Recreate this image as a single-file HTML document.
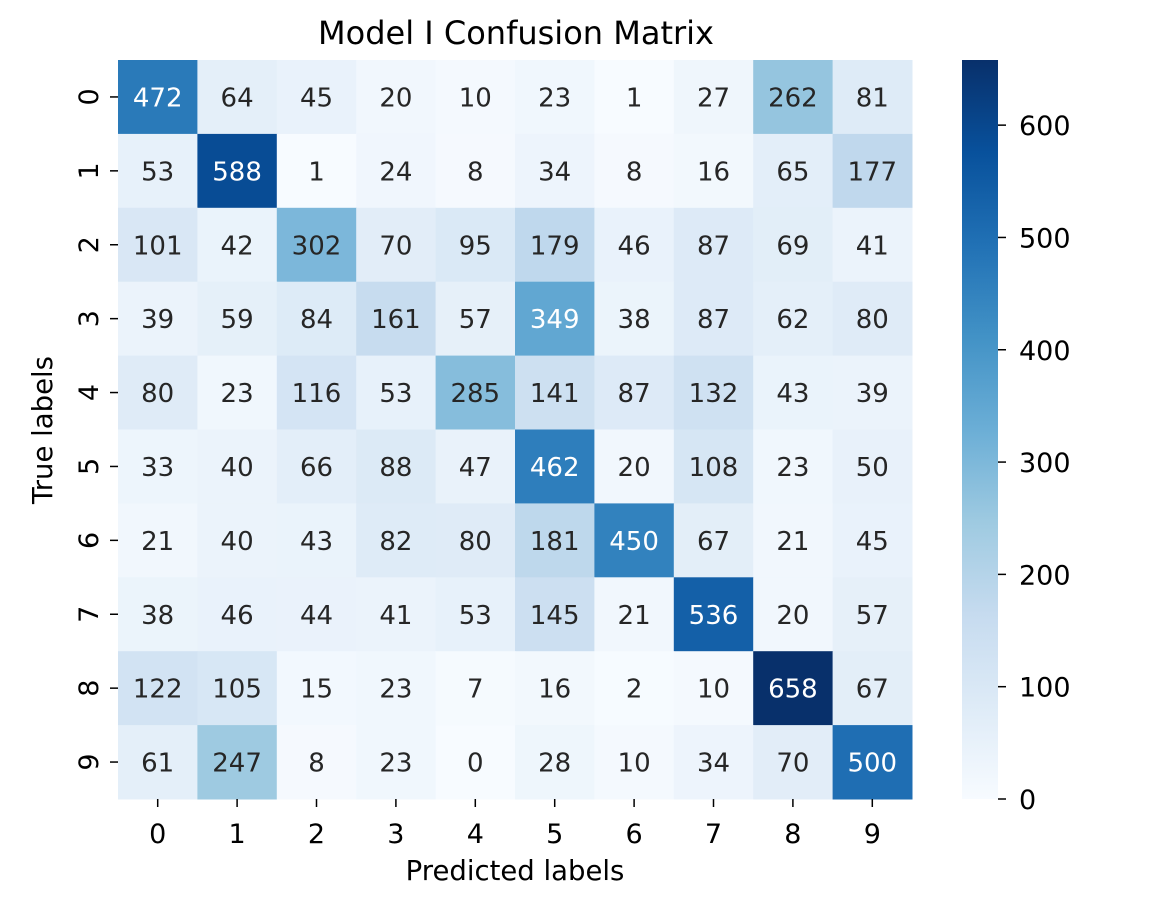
<!DOCTYPE html>
<html><head><meta charset="utf-8"><style>
body{margin:0;background:#fff;font-family:"Liberation Sans","DejaVu Sans",sans-serif;}
svg text{font-family:"DejaVu Sans","Liberation Sans",sans-serif;}
</style></head><body>
<svg id="chart" width="1158" height="904" xmlns="http://www.w3.org/2000/svg">
<defs><linearGradient id="cbgrad" x1="0" y1="1" x2="0" y2="0">
<stop offset="0" stop-color="#f7fbff"/><stop offset="0.125" stop-color="#deebf7"/><stop offset="0.25" stop-color="#c6dbef"/><stop offset="0.375" stop-color="#9ecae1"/><stop offset="0.5" stop-color="#6baed6"/><stop offset="0.625" stop-color="#4292c6"/><stop offset="0.75" stop-color="#2171b5"/><stop offset="0.875" stop-color="#08519c"/><stop offset="1" stop-color="#08306b"/>
</linearGradient></defs>
<text x="516" y="44" font-size="32" text-anchor="middle" fill="#000">Model I Confusion Matrix</text>
<text x="515" y="880" font-size="27.5" text-anchor="middle" fill="#000">Predicted labels</text>
<text x="0" y="0" font-size="27.5" text-anchor="middle" fill="#000" transform="translate(52,430) rotate(-90)">True labels</text>
<g id="cells"></g>
<g id="xticks"></g>
<g id="yticks"></g>
<rect x="962" y="60" width="36" height="739" fill="url(#cbgrad)"/>
<g id="cbticks"></g>
</svg>
<script>
const categories = ["0","1","2","3","4","5","6","7","8","9"];
const row0 = [472,64,45,20,10,23,1,27,262,81];
const row1 = [53,588,1,24,8,34,8,16,65,177];
const row2 = [101,42,302,70,95,179,46,87,69,41];
const row3 = [39,59,84,161,57,349,38,87,62,80];
const row4 = [80,23,116,53,285,141,87,132,43,39];
const row5 = [33,40,66,88,47,462,20,108,23,50];
const row6 = [21,40,43,82,80,181,450,67,21,45];
const row7 = [38,46,44,41,53,145,21,536,20,57];
const row8 = [122,105,15,23,7,16,2,10,658,67];
const row9 = [61,247,8,23,0,28,10,34,70,500];
const matrix = [row0,row1,row2,row3,row4,row5,row6,row7,row8,row9];
const cbTicks = [0,100,200,300,400,500,600];

const NS="http://www.w3.org/2000/svg";
const X0=118,X1=912,Y0=60,Y1=799,CB0=799,CB1=60;
let vmin=0,vmax=0;
matrix.forEach(r=>r.forEach(v=>{if(v>vmax)vmax=v;}));
const cw=(X1-X0)/categories.length, ch=(Y1-Y0)/categories.length;
const xs=i=>X0+i*cw, ys=i=>Y0+i*ch;
const cbY=v=>CB0-(v-vmin)/(vmax-vmin)*(CB0-CB1);
const stops=["#f7fbff","#deebf7","#c6dbef","#9ecae1","#6baed6","#4292c6","#2171b5","#08519c","#08306b"].map(h=>[parseInt(h.slice(1,3),16),parseInt(h.slice(3,5),16),parseInt(h.slice(5,7),16)]);
function color(v){let t=(v-vmin)/(vmax-vmin);t=Math.max(0,Math.min(1,t));const p=t*8,i=Math.min(7,Math.floor(p)),f=p-i;
return stops[i].map((c,k)=>Math.round(c+(stops[i+1][k]-c)*f));}
function lum(c){const l=c.map(x=>{x/=255;return x<=0.03928?x/12.92:Math.pow((x+0.055)/1.055,2.4);});return 0.2126*l[0]+0.7152*l[1]+0.0722*l[2];}
function mk(tag,attrs,parent){const e=document.createElementNS(NS,tag);for(const k in attrs)e.setAttribute(k,attrs[k]);parent.appendChild(e);return e;}
const cells=document.getElementById('cells');
matrix.forEach((r,i)=>r.forEach((v,j)=>{
 const c=color(v);
 const rect=mk('rect',{x:xs(j),y:ys(i),width:cw+0.5,height:ch+0.5,fill:`rgb(${c})`},cells);
 
 
 const t=mk('text',{x:xs(j)+cw/2,y:ys(i)+ch/2+9.5,'font-size':26,'text-anchor':'middle',fill:lum(c)>0.408?'#262626':'#ffffff'},cells);
 
 
 t.textContent=v;
}));
const xt=document.getElementById('xticks'),yt=document.getElementById('yticks');
categories.forEach((c,i)=>{
 const cx=xs(i)+cw/2;
 mk('line',{x1:cx,x2:cx,y1:Y1,y2:Y1+8,stroke:'#000','stroke-width':1.5},xt);
 const t=mk('text',{x:cx,y:Y1+44,'font-size':27,'text-anchor':'middle',fill:'#000'},xt);
 
 
 t.textContent=c;
 const cy=ys(i)+ch/2;
 mk('line',{x1:X0-8,x2:X0,y1:cy,y2:cy,stroke:'#000','stroke-width':1.5},yt);
 const u=mk('text',{x:0,y:0,'font-size':27,'text-anchor':'middle',fill:'#000',transform:`translate(98,${cy}) rotate(-90)`},yt);
 
 
 u.textContent=c;
});
const cb=document.getElementById('cbticks');
cbTicks.forEach(v=>{
 const y=cbY(v);
 mk('line',{x1:998,x2:1006,y1:y,y2:y,stroke:'#000','stroke-width':1.5},cb);
 const t=mk('text',{x:1019,y:y+10,'font-size':27,fill:'#000'},cb);
 
 
 t.textContent=v;
});
</script>
</body></html>
